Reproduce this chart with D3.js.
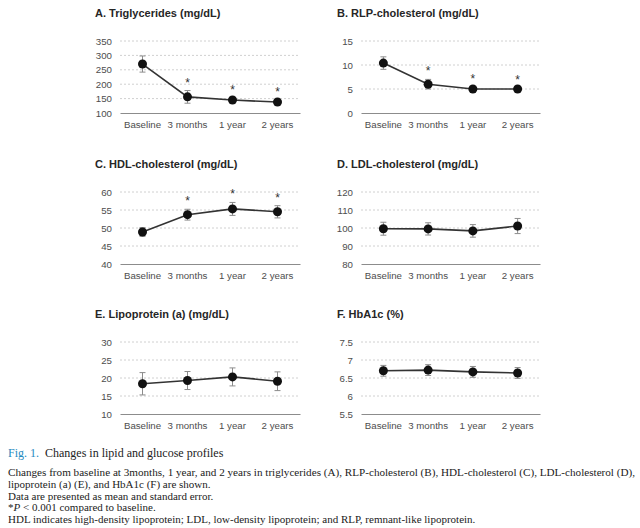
<!DOCTYPE html>
<html>
<head>
<meta charset="utf-8">
<script src="https://cdn.jsdelivr.net/npm/d3@7"></script>
<style>
  body { margin: 0; background: #fff; }
  svg { display: block; }
</style>
</head>
<body>
<div id="chart"></div>
<script>
/* DATA */
const timepoints = ["Baseline", "3 months", "1 year", "2 years"];

const tgMean = [270, 156, 145, 138];
const tgSE = [28, 22, 8, 7];
const tgStar = [false, true, true, true];
const tgTicks = [100, 150, 200, 250, 300, 350];

const rlpMean = [10.4, 6.0, 5.0, 5.0];
const rlpSE = [1.3, 1.0, 0.4, 0.3];
const rlpStar = [false, true, true, true];
const rlpTicks = [0, 5, 10, 15];

const hdlMean = [48.9, 53.7, 55.3, 54.5];
const hdlSE = [1.2, 1.5, 1.8, 1.7];
const hdlStar = [false, true, true, true];
const hdlTicks = [40, 45, 50, 55, 60];

const ldlMean = [99.6, 99.5, 98.4, 101.1];
const ldlSE = [3.6, 3.4, 3.5, 4.2];
const ldlStar = [false, false, false, false];
const ldlTicks = [80, 90, 100, 110, 120];

const lpaMean = [18.4, 19.3, 20.3, 19.1];
const lpaSE = [3.1, 2.5, 2.5, 2.6];
const lpaStar = [false, false, false, false];
const lpaTicks = [10, 15, 20, 25, 30];

const hbaMean = [6.70, 6.72, 6.67, 6.64];
const hbaSE = [0.15, 0.15, 0.15, 0.15];
const hbaStar = [false, false, false, false];
const hbaTicks = [5.5, 6, 6.5, 7, 7.5];

const panels = [
  { title: "A. Triglycerides (mg/dL)", mean: tgMean, se: tgSE, star: tgStar, ticks: tgTicks },
  { title: "B. RLP-cholesterol (mg/dL)", mean: rlpMean, se: rlpSE, star: rlpStar, ticks: rlpTicks },
  { title: "C. HDL-cholesterol (mg/dL)", mean: hdlMean, se: hdlSE, star: hdlStar, ticks: hdlTicks },
  { title: "D. LDL-cholesterol (mg/dL)", mean: ldlMean, se: ldlSE, star: ldlStar, ticks: ldlTicks },
  { title: "E. Lipoprotein (a) (mg/dL)", mean: lpaMean, se: lpaSE, star: lpaStar, ticks: lpaTicks },
  { title: "F. HbA1c (%)", mean: hbaMean, se: hbaSE, star: hbaStar, ticks: hbaTicks }
];

/* LAYOUT */
const width = 640, height = 528;
const colX = [{ left: 120, right: 300, title: 95 }, { left: 361, right: 540, title: 337 }];
const rowY = [41, 192, 342];
const plotH = 72;
const sans = "Liberation Sans, Arial, sans-serif";

const svg = d3.select("#chart").append("svg")
  .attr("width", width)
  .attr("height", height)
  .style("background", "#fff");

panels.forEach((p, i) => {
  const col = colX[i % 2];
  const top = rowY[Math.floor(i / 2)];
  const g = svg.append("g");

  const x = d3.scaleBand()
    .domain(timepoints)
    .range([col.left, col.right]);

  const y = d3.scaleLinear()
    .domain(d3.extent(p.ticks))
    .range([top + plotH, top]);

  // title
  g.append("text")
    .attr("x", col.title)
    .attr("y", top - 24)
    .style("font-family", sans)
    .style("font-weight", "bold")
    .style("font-size", "11px")
    .attr("fill", "#262626")
    .text(p.title);

  // gridlines
  g.selectAll(".grid")
    .data(p.ticks.slice(1))
    .join("line")
    .attr("x1", col.left)
    .attr("x2", col.right)
    .attr("y1", d => y(d))
    .attr("y2", d => y(d))
    .attr("stroke", "#d0d0d0")
    .attr("stroke-width", 1)
    .attr("stroke-dasharray", "2,2");

  // y axis labels
  const yAxis = g.append("g")
    .attr("transform", `translate(${col.left},0)`)
    .call(d3.axisLeft(y).tickValues(p.ticks).tickFormat(d => d).tickSize(0).tickPadding(8));
  yAxis.select(".domain").remove();
  yAxis.selectAll("text")
    .style("font-family", sans)
    .style("font-size", "9.7px")
    .attr("fill", "#4d4d4d");

  // x axis
  const xAxis = g.append("g")
    .attr("transform", `translate(0,${top + plotH})`)
    .call(d3.axisBottom(x).tickSize(0).tickPadding(8));
  xAxis.select(".domain").attr("stroke", "#8c8c8c").attr("stroke-width", 1.2);
  xAxis.selectAll("text")
    .style("font-family", sans)
    .style("font-size", "9.7px")
    .attr("fill", "#4d4d4d");

  const rows = timepoints.map((t, j) => ({ t, m: p.mean[j], se: p.se[j], star: p.star[j] }));
  const cx = d => x(d.t) + x.bandwidth() / 2;

  // error bars
  g.selectAll(".err")
    .data(rows)
    .join("path")
    .attr("d", d => `M${cx(d)},${y(d.m + d.se)}V${y(d.m - d.se)}` +
      `M${cx(d) - 3},${y(d.m + d.se)}H${cx(d) + 3}` +
      `M${cx(d) - 3},${y(d.m - d.se)}H${cx(d) + 3}`)
    .attr("stroke", "#8c8c8c")
    .attr("stroke-width", 1)
    .attr("fill", "none");

  // line
  g.append("path")
    .datum(rows)
    .attr("d", d3.line().x(cx).y(d => y(d.m)))
    .attr("stroke", "#333")
    .attr("stroke-width", 1.6)
    .attr("fill", "none");

  // markers
  g.selectAll(".pt")
    .data(rows)
    .join("circle")
    .attr("cx", cx)
    .attr("cy", d => y(d.m))
    .attr("r", 4.5)
    .attr("fill", "#111");

  // significance stars
  g.selectAll(".star")
    .data(rows.filter(d => d.star))
    .join("text")
    .attr("x", cx)
    .attr("y", d => y(d.m + d.se) - 4)
    .attr("text-anchor", "middle")
    .style("font-family", sans)
    .style("font-size", "12px")
    .attr("fill", "#333")
    .text("*");
});

/* CAPTION */
const serif = "Liberation Serif, Times New Roman, serif";
const cap = svg.append("text")
  .attr("x", 8)
  .attr("y", 457)
  .style("font-family", serif)
  .style("font-size", "12px");
cap.append("tspan").attr("fill", "#1f8ac0").text("Fig. 1.");
cap.append("tspan").attr("dx", 6).attr("fill", "#222").text("Changes in lipid and glucose profiles");

const captionLines = [
  "Changes from baseline at 3months, 1 year, and 2 years in triglycerides (A), RLP-cholesterol (B), HDL-cholesterol (C), LDL-cholesterol (D),",
  "lipoprotein (a) (E), and HbA1c (F) are shown.",
  "Data are presented as mean and standard error.",
  null,
  "HDL indicates high-density lipoprotein; LDL, low-density lipoprotein; and RLP, remnant-like lipoprotein."
];
captionLines.forEach((t, i) => {
  const line = svg.append("text")
    .attr("x", 8)
    .attr("y", 476 + i * 11.8)
    .style("font-family", serif)
    .style("font-size", "11px")
    .attr("fill", "#222");
  if (t === null) {
    line.append("tspan").text("*");
    line.append("tspan").style("font-style", "italic").text("P");
    line.append("tspan").text(" < 0.001 compared to baseline.");
  } else {
    line.text(t);
  }
  if (i === 0) line.attr("textLength", 627).attr("lengthAdjust", "spacingAndGlyphs");
});
</script>
</body>
</html>
